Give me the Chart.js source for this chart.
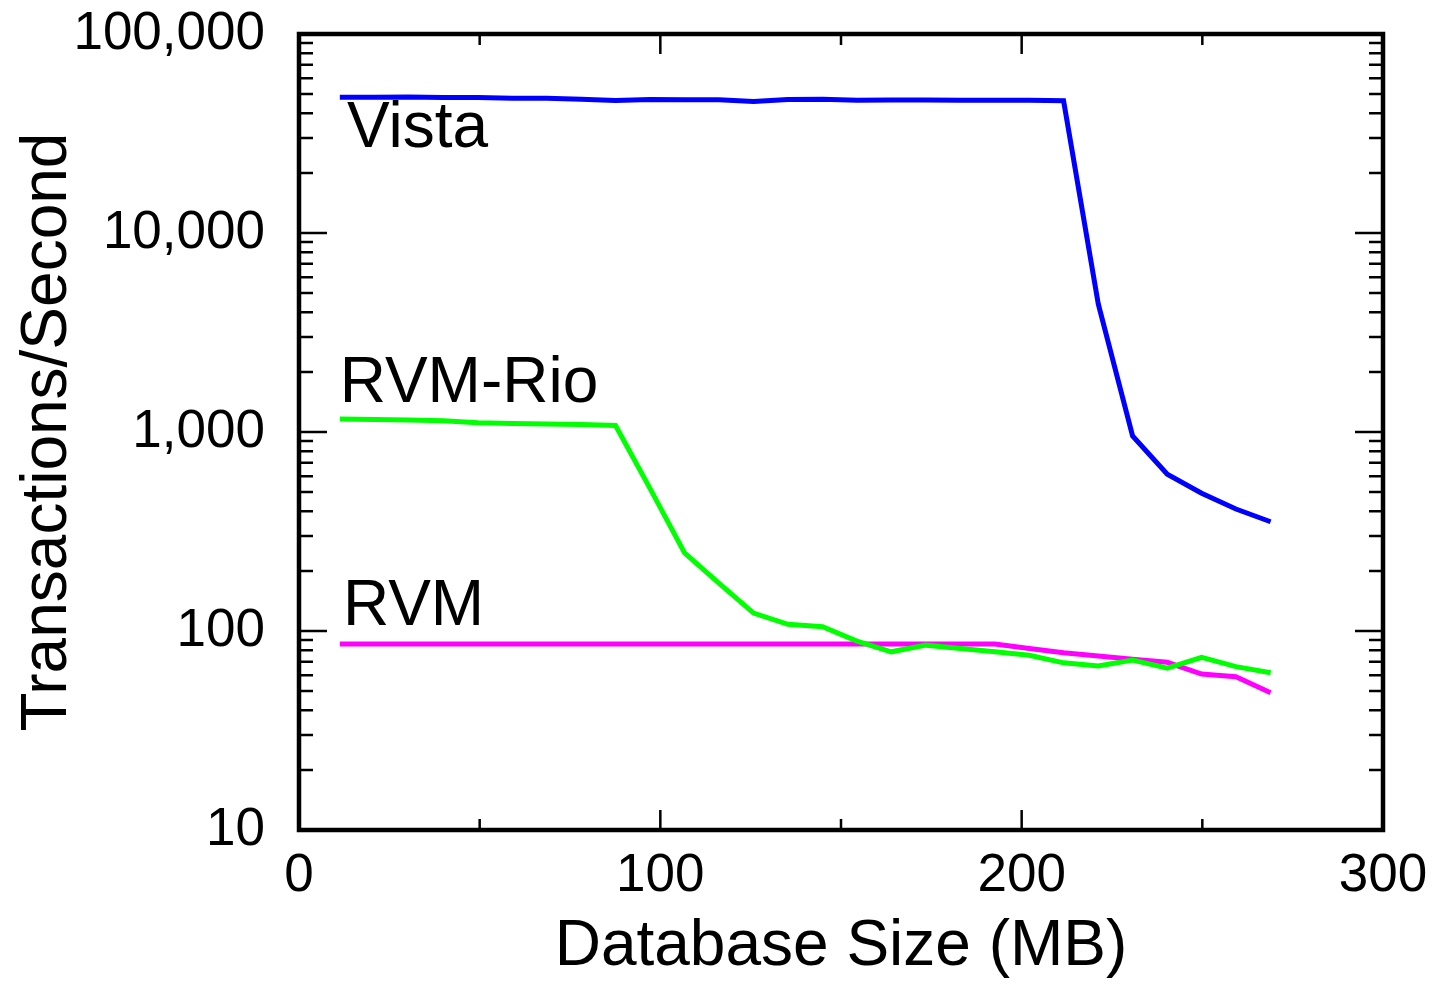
<!DOCTYPE html>
<html>
<head>
<meta charset="utf-8">
<script src="https://cdn.jsdelivr.net/npm/chart.js@4/dist/chart.umd.min.js"></script>
<style>
  html, body { margin: 0; padding: 0; background: #fff; }
  #wrap { width: 1440px; height: 984px; }
</style>
</head>
<body>
<div id="wrap"><canvas id="tpsChart" width="1440" height="984"></canvas></div>
<script>
// Database sizes (MB) for each measurement
const sizes = [11.3, 20.8, 30.4, 39.9, 49.5, 59.0, 68.5, 78.1, 87.6, 97.2, 106.7, 116.2, 125.8, 135.3,
  144.9, 154.4, 163.9, 173.5, 183.0, 192.6, 202.1, 211.6, 221.2, 230.7, 240.3, 249.8, 259.3, 268.9];

// Transactions per second
const vista = [48100, 48100, 48300, 47900, 48000, 47500, 47600, 47000, 46300, 46800, 46700, 46700, 45800, 46900,
  47000, 46500, 46600, 46600, 46500, 46400, 46400, 46200, 4400, 955, 613, 492, 410, 354];
const rvmRio = [1162, 1155, 1148, 1139, 1113, 1103, 1097, 1090, 1078, 518, 247, 174, 123, 108,
  105, 89, 78.6, 84.9, 81.7, 78.7, 75.5, 69.2, 66.7, 71.5, 65.0, 73.8, 66.2, 61.7];
const rvm = [86, 86, 86, 86, 86, 86, 86, 86, 86, 86, 86, 86, 86, 86,
  86, 86, 86, 86, 86, 86, 81.7, 77.8, 74.9, 72.1, 69.6, 60.8, 58.9, 49.0];

// Axis ticks
const xMajor = [0, 100, 200, 300];
const xMinor = [50, 150, 250];
const yMajor = [10, 100, 1000, 10000, 100000];
const yMinor = [20, 30, 40, 50, 60, 70, 80, 90, 200, 300, 400, 500, 600, 700, 800, 900,
  2000, 3000, 4000, 5000, 6000, 7000, 8000, 9000, 20000, 30000, 40000, 50000, 60000, 70000, 80000, 90000];

// In-plot series labels (x in MB, y in tx/s)
const seriesLabels = [
  { text: "Vista", x: 13.3, y: 27000 },
  { text: "RVM-Rio", x: 11.3, y: 1420 },
  { text: "RVM", x: 12.2, y: 107 }
];

const FONT = "'Liberation Sans', Arial, Helvetica, sans-serif";

function pts(ys) {
  return sizes.map((x, i) => ({ x: x, y: ys[i] }));
}

// frame, inward ticks and series labels
const framePlugin = {
  id: "frame",
  afterDraw(chart) {
    const ctx = chart.ctx;
    const a = chart.chartArea;
    const xs = chart.scales.x, ys = chart.scales.y;
    ctx.save();
    ctx.strokeStyle = "#000";
    ctx.lineWidth = 2.5;
    ctx.beginPath();
    yMajor.concat(yMinor).forEach(v => {
      const y = ys.getPixelForValue(v);
      const len = yMajor.includes(v) ? 28 : 14;
      ctx.moveTo(a.left, y); ctx.lineTo(a.left + len, y);
      ctx.moveTo(a.right, y); ctx.lineTo(a.right - len, y);
    });
    xMajor.concat(xMinor).forEach(v => {
      const x = xs.getPixelForValue(v);
      const len = xMajor.includes(v) ? 20 : 11;
      ctx.moveTo(x, a.bottom); ctx.lineTo(x, a.bottom - len);
      ctx.moveTo(x, a.top); ctx.lineTo(x, a.top + len);
    });
    ctx.stroke();

    ctx.lineWidth = 4.5;
    ctx.strokeRect(a.left, a.top, a.right - a.left, a.bottom - a.top);

    ctx.fillStyle = "#000";
    ctx.font = "64px " + FONT;
    ctx.textAlign = "left";
    ctx.textBaseline = "alphabetic";
    seriesLabels.forEach(l => {
      ctx.fillText(l.text, xs.getPixelForValue(l.x), ys.getPixelForValue(l.y));
    });
    ctx.restore();
  }
};

const ctx = document.getElementById("tpsChart").getContext("2d");
const chart = new Chart(ctx, {
  type: "line",
  data: {
    datasets: [
      { label: "Vista", data: pts(vista), borderColor: "#0000ff" },
      { label: "RVM-Rio", data: pts(rvmRio), borderColor: "#00ff00" },
      { label: "RVM", data: pts(rvm), borderColor: "#ff00ff" }
    ]
  },
  options: {
    responsive: false,
    animation: false,
    devicePixelRatio: 1,
    layout: { padding: { top: 34, right: 57, left: 0, bottom: 0 } },
    elements: {
      line: { borderWidth: 5, tension: 0, fill: false },
      point: { radius: 0 }
    },
    plugins: { legend: { display: false }, tooltip: { enabled: false } },
    scales: {
      x: {
        type: "linear",
        min: 0,
        max: 300,
        grid: { display: false, drawTicks: false, tickLength: 0 },
        border: { display: false },
        afterBuildTicks: s => { s.ticks = xMajor.map(v => ({ value: v })); },
        afterFit: s => { s.height = 154; s.paddingLeft = 0; s.paddingRight = 0; },
        ticks: {
          color: "#000",
          padding: 15,
          maxRotation: 0,
          font: { family: FONT, size: 53 }
        },
        title: {
          display: true,
          text: "Database Size (MB)",
          color: "#000",
          padding: { top: 0, bottom: 0 },
          font: { family: FONT, size: 64, lineHeight: 1.14 }
        }
      },
      y: {
        type: "logarithmic",
        min: 10,
        max: 100000,
        grid: { display: false, drawTicks: false, tickLength: 0 },
        border: { display: false },
        afterBuildTicks: s => { s.ticks = yMajor.map(v => ({ value: v })); },
        afterFit: s => { s.width = 299; s.paddingTop = 0; s.paddingBottom = 0; },
        ticks: {
          color: "#000",
          padding: 34,
          font: { family: FONT, size: 53 },
          callback: v => Number(v).toLocaleString("en-US")
        },
        title: {
          display: true,
          text: "Transactions/Second",
          color: "#000",
          padding: { top: 10, bottom: 0 },
          font: { family: FONT, size: 64 }
        }
      }
    }
  },
  plugins: [framePlugin]
});
</script>
</body>
</html>
